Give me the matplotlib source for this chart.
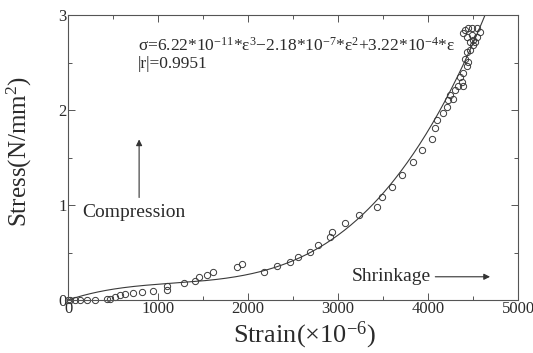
import numpy as np
import matplotlib
matplotlib.use("Agg")
import matplotlib.pyplot as plt
from matplotlib.ticker import MultipleLocator

plt.rcParams['font.family'] = ['Liberation Serif', 'DejaVu Serif']
plt.rcParams['mathtext.fontset'] = 'custom'
plt.rcParams['mathtext.rm'] = 'Liberation Serif'
plt.rcParams['mathtext.it'] = 'Liberation Serif:italic'

# measured points (strain x1e-6, stress N/mm2)
strain = [0, 22, 80, 133, 211, 300, 430, 467, 522, 578, 633, 722, 822, 944,
          1097, 1103, 1289, 1411, 1459, 1541, 1608, 1881, 1937, 2175, 2319,
          2467, 2559, 2689, 2781, 2911, 2930, 3078, 3237, 3430, 3492, 3597,
          3708, 3830, 3930, 4041, 4078, 4096, 4170, 4207, 4226, 4244, 4281,
          4300, 4337, 4374, 4393, 4356, 4393, 4430, 4448, 4411, 4430, 4467,
          4496, 4522, 4393, 4411, 4448, 4485, 4541, 4578, 4430, 4485, 4541,
          4504, 4467]
stress = [0.0, 0.0, 0.0, 0.0, 0.0, 0.0, 0.01, 0.01, 0.035, 0.05, 0.06, 0.07,
          0.08, 0.09, 0.11, 0.15, 0.175, 0.2, 0.24, 0.26, 0.3, 0.35, 0.38,
          0.30, 0.36, 0.40, 0.45, 0.51, 0.58, 0.66, 0.72, 0.81, 0.89, 0.98,
          1.08, 1.19, 1.32, 1.45, 1.58, 1.70, 1.81, 1.89, 1.97, 2.03, 2.11,
          2.16, 2.12, 2.21, 2.25, 2.30, 2.25, 2.35, 2.39, 2.46, 2.51, 2.54,
          2.61, 2.63, 2.68, 2.72, 2.81, 2.84, 2.86, 2.86, 2.86, 2.82, 2.77,
          2.79, 2.77, 2.74, 2.72]

# fitted cubic from the chart
fit_coef = [6.22e-11, -2.18e-7, 3.22e-4, 0.0]
fit_range = [0, 4640]

txt = '#2b2b2b'
edge = '#555555'

fig = plt.figure(figsize=(5.33, 3.53), dpi=100)
ax = fig.add_axes([0.1276, 0.150, 0.8443, 0.8075])

xs = np.linspace(fit_range[0], fit_range[1], 400)
ax.plot(xs, np.polyval(fit_coef, xs), color='#3a3a3a', lw=0.8)
ax.plot(strain, stress, 'o', mfc='none', mec='#3a3a3a', mew=0.7, ms=4.5,
        clip_on=False)

ax.set_xlim(0, 5000)
ax.set_ylim(0, 3)
ax.xaxis.set_major_locator(MultipleLocator(1000))
ax.xaxis.set_minor_locator(MultipleLocator(500))
ax.yaxis.set_major_locator(MultipleLocator(1))
ax.yaxis.set_minor_locator(MultipleLocator(0.5))
ax.tick_params(which='both', direction='in', top=True, right=True,
               color=edge, width=0.7, labelsize=12, labelcolor=txt, pad=1)
ax.tick_params(which='major', length=5)
ax.tick_params(which='minor', length=3)
for s in ax.spines.values():
    s.set_color(edge)
    s.set_linewidth(0.8)

ax.set_xlabel('Strain($\\times$10$^{-6}$)', fontsize=19, color=txt)
ax.set_ylabel('Stress(N/mm$^2$)', fontsize=18, color=txt)
ax.xaxis.set_label_coords(0.525, -0.068)
ax.yaxis.set_label_coords(-0.075, 0.52)

ax.text(780, 2.68,
        '\u03c3=6.22*10$^{-11}$*\u03b5$^3$\u22122.18*10$^{-7}$*\u03b5$^2$'
        '+3.22*10$^{-4}$*\u03b5',
        fontsize=12.5, color=txt, va='center')
ax.text(780, 2.48, '|r|=0.9951', fontsize=12.5, color=txt, va='center')

ax.text(160, 0.92, 'Compression', fontsize=14, color=txt, va='center')
ax.annotate('', xy=(790, 1.72), xytext=(790, 1.05),
            arrowprops=dict(arrowstyle='-|>', color='#333333', lw=0.8,
                            mutation_scale=9))
ax.text(3150, 0.25, 'Shrinkage', fontsize=14, color=txt, va='center')
ax.annotate('', xy=(4720, 0.245), xytext=(4050, 0.245),
            arrowprops=dict(arrowstyle='-|>', color='#333333', lw=0.8,
                            mutation_scale=9))

fig.savefig('out.png', dpi=100)
